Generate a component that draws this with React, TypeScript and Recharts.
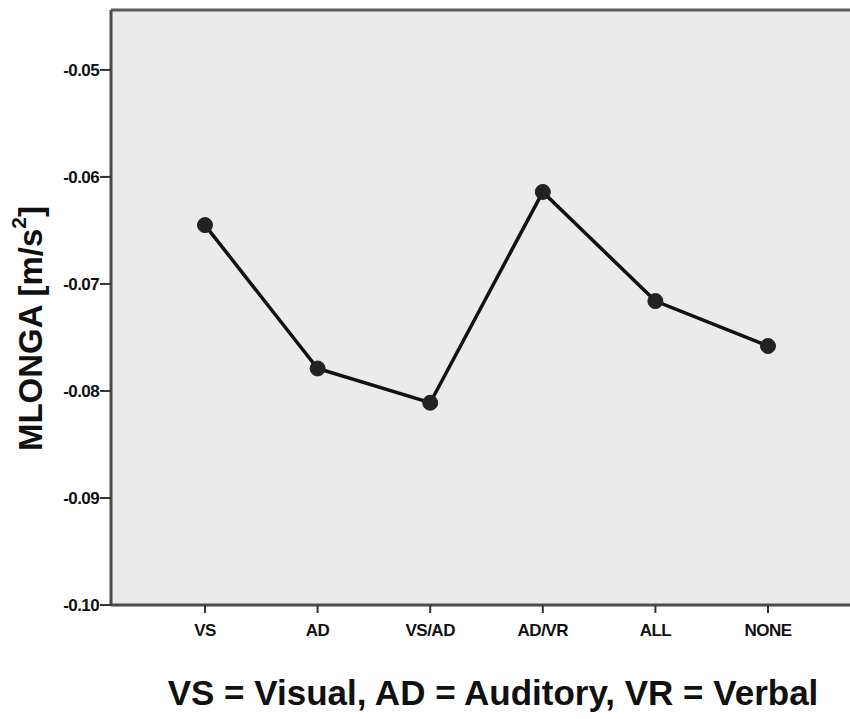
import React from 'react';
import { LineChart, Line, XAxis, YAxis, CartesianGrid, ReferenceLine } from 'recharts';

const categories = ['VS', 'AD', 'VS/AD', 'AD/VR', 'ALL', 'NONE'];
const mlonga = [-0.0645, -0.0779, -0.0811, -0.0614, -0.0716, -0.0758];
const yTicks = [-0.1, -0.09, -0.08, -0.07, -0.06, -0.05];
const yMin = -0.1;
const yMax = -0.0444;
const yLabel = 'MLONGA [m/s';
const xTitle = 'VS = Visual, AD = Auditory, VR = Verbal';

const data = categories.map((c, i) => ({ cat: c, v: mlonga[i] }));

const FONT = '"Liberation Sans", Arial, sans-serif';

const YLabelContent = (props: any) => {
  const vb = props.viewBox || {};
  const cx = 30;
  const cy = vb.y + vb.height / 2 + 21;
  return (
    <text
      x={cx}
      y={cy}
      transform={`rotate(-90 ${cx} ${cy})`}
      textAnchor="middle"
      dominantBaseline="central"
      fontFamily={FONT}
      fontWeight="bold"
      fontSize={33}
      fill="#111"
    >
      {yLabel}
      <tspan dy={-12} fontSize={21}>2</tspan>
      <tspan dy={12}>]</tspan>
    </text>
  );
};

const XTitleContent = (props: any) => {
  const vb = props.viewBox || {};
  return (
    <text
      x={493}
      y={vb.y + 100}
      textAnchor="middle"
      fontFamily={FONT}
      fontWeight="bold"
      fontSize={35}
      fill="#111"
    >
      {xTitle}
    </text>
  );
};

export default function App() {
  return (
    <div style={{ position: 'absolute', left: 0, top: 0, width: 850, height: 719, background: '#fff' }}>
      <LineChart width={850} height={719} data={data} margin={{ top: 10, right: 0, left: 0, bottom: 0 }}>
        <CartesianGrid fill="#ebebeb" horizontal={false} vertical={false} stroke="none" />
        <XAxis
          dataKey="cat"
          height={114}
          padding={{ left: 94, right: 82 }}
          tickSize={8}
          tickMargin={11}
          axisLine={{ stroke: '#4a4a4a', strokeWidth: 3 }}
          tickLine={{ stroke: '#333', strokeWidth: 2 }}
          tick={{ fontFamily: FONT, fontWeight: 'bold', fontSize: 17, fill: '#111', letterSpacing: -0.5 }}
          label={<XTitleContent />}
        />
        <YAxis
          width={111}
          domain={[yMin, yMax]}
          ticks={yTicks}
          tickFormatter={(v: number) => v.toFixed(2)}
          tickSize={11}
          tickMargin={1}
          allowDataOverflow
          axisLine={{ stroke: '#4a4a4a', strokeWidth: 3 }}
          tickLine={{ stroke: '#333', strokeWidth: 2 }}
          tick={{ fontFamily: FONT, fontWeight: 'bold', fontSize: 17, fill: '#111', letterSpacing: -0.6 }}
          label={<YLabelContent />}
        />
        <ReferenceLine y={yMax} stroke="#5a5a5a" strokeWidth={3} ifOverflow="visible" />
        <Line
          dataKey="v"
          stroke="#111"
          strokeWidth={3.5}
          dot={{ r: 7.5, fill: '#222', stroke: '#222', strokeWidth: 1 }}
          isAnimationActive={false}
        />
      </LineChart>
    </div>
  );
}
